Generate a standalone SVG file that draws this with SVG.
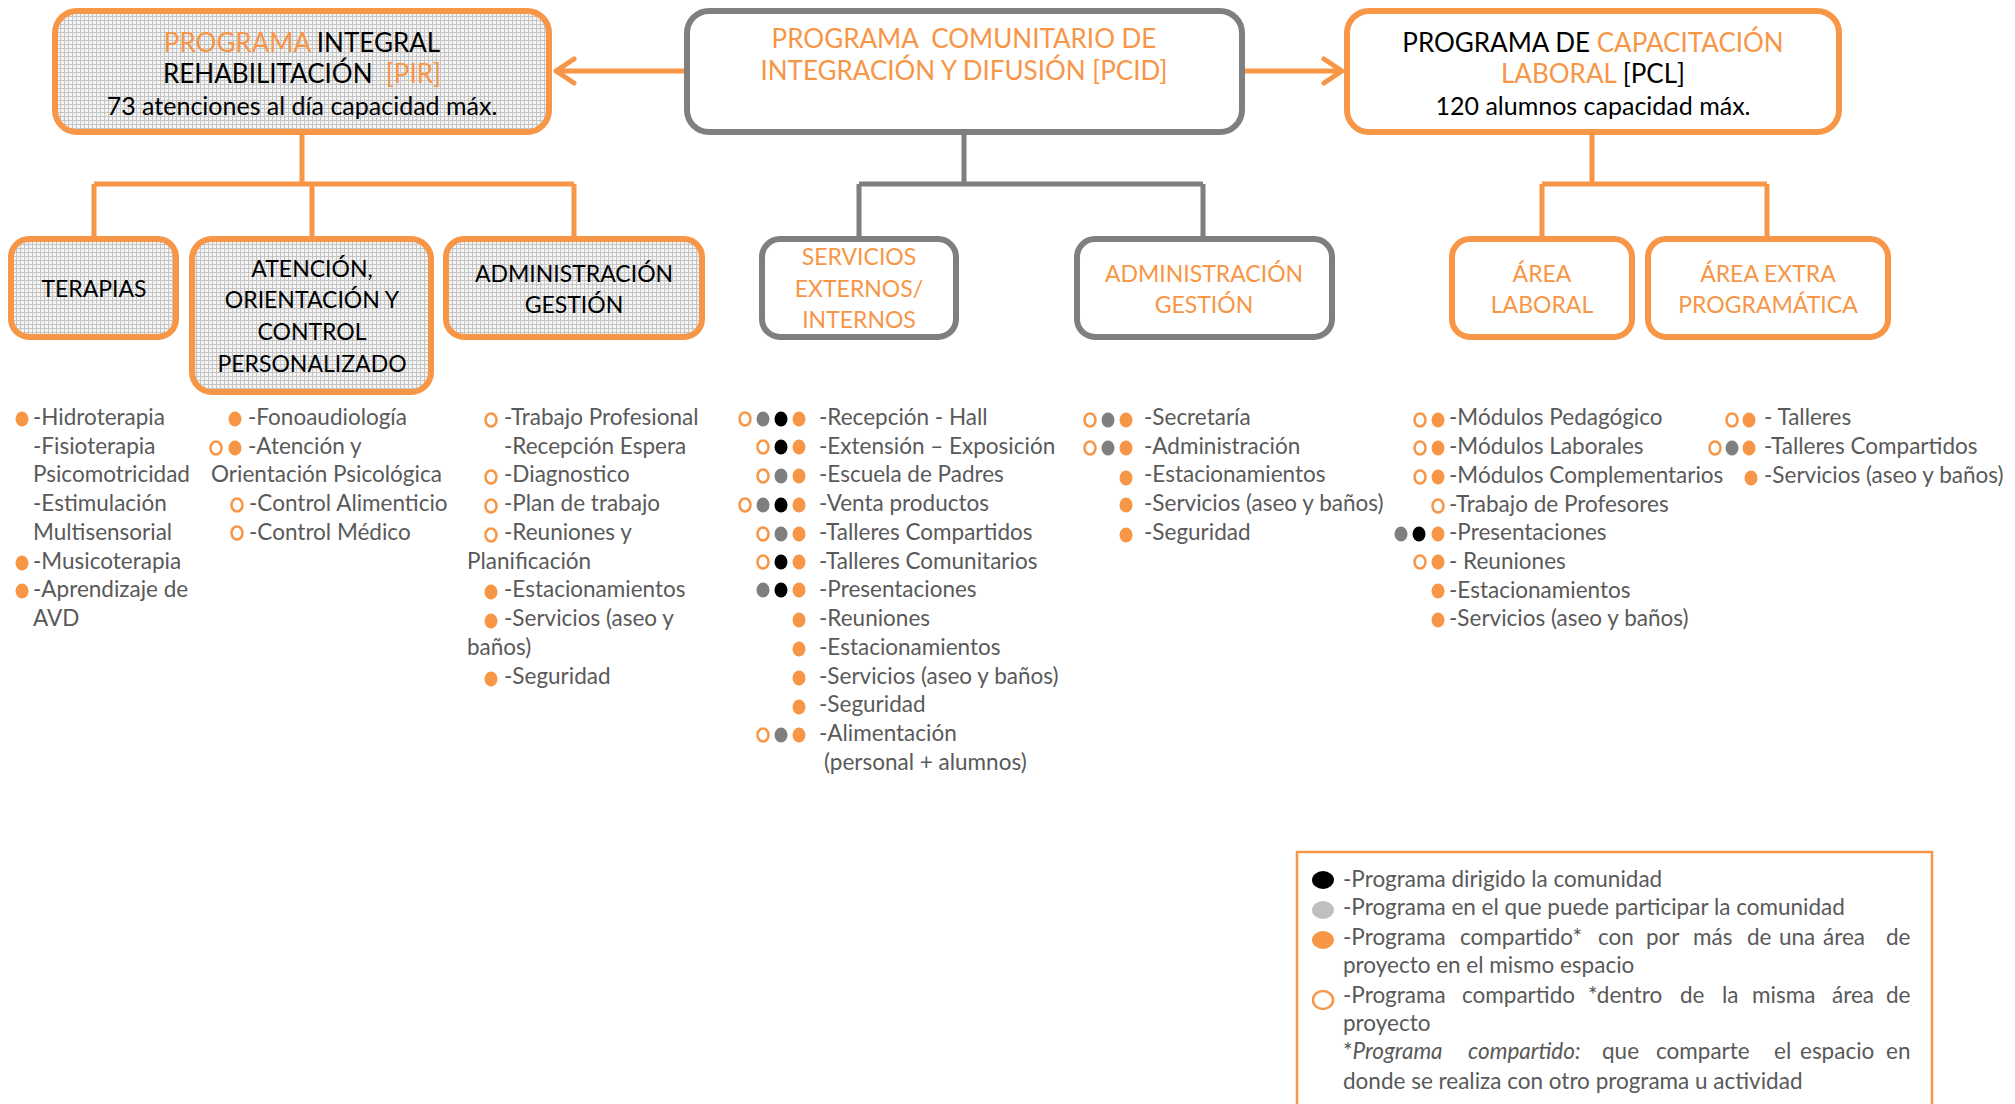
<svg xmlns="http://www.w3.org/2000/svg" width="2015" height="1104" viewBox="0 0 2015 1104">
<defs>
<pattern id="hatch" width="4" height="4" patternUnits="userSpaceOnUse">
<rect width="4" height="4" fill="#f4f4f4"/>
<path d="M0,0.5 H4 M0.5,0 V4" stroke="#c4c4c4" stroke-width="1"/>
</pattern>
<marker id="chev" viewBox="0 0 26 30" refX="22" refY="15" markerWidth="26" markerHeight="30" markerUnits="userSpaceOnUse" orient="auto">
<path d="M4,3 L22,15 L4,27" fill="none" stroke="#F79646" stroke-width="5" stroke-linecap="round" stroke-linejoin="round"/>
</marker>
<style>
.bo{fill:url(#hatch);stroke:#F79646;stroke-width:6}
.bw{fill:#fff;stroke:#F79646;stroke-width:6}
.bg{fill:#fff;stroke:#7F7F7F;stroke-width:6}
.h{font-family:Lato,"Open Sans",sans-serif;font-size:25px;fill:#000;text-anchor:middle}
.hc{font-size:26px}
.h2{font-family:Lato,"Open Sans",sans-serif;font-size:23px;fill:#000;text-anchor:middle}
.o{fill:#F79646}
.l{font-family:Lato,"Open Sans",sans-serif;font-size:22.5px;fill:#595959}
.it{font-style:italic}
.fo{fill:#F79646}
.fg{fill:#7F7F7F}
.fb{fill:#000}
.fl{fill:#BFBFBF}
.oo{fill:#fff;stroke:#F79646;stroke-width:2.5}
.co{fill:none;stroke:#F79646;stroke-width:5}
.cg{fill:none;stroke:#7F7F7F;stroke-width:5}
</style>
</defs>
<rect width="2015" height="1104" fill="#fff"/>

<g id="connectors">
<path class="co" d="M302,132 V184 M94,184 H574 M94,184 V238 M312,184 V238 M574,184 V238"/>
<path class="cg" d="M964,132 V184 M859,184 H1203 M859,184 V238 M1203,184 V238"/>
<path class="co" d="M1592,132 V184 M1542,184 H1767 M1542,184 V238 M1767,184 V238"/>
<path class="co" d="M687,71 H556" marker-end="url(#chev)"/>
<path class="co" d="M1243,71 H1342" marker-end="url(#chev)"/>
</g>

<g id="pir">
<rect class="bo" x="55" y="11" width="494" height="121" rx="22"/>
<text class="h hc" x="302" y="52"><tspan class="o">PROGRAMA</tspan> INTEGRAL</text>
<text class="h hc" x="302" y="83" xml:space="preserve">REHABILITACIÓN  <tspan class="o">[PIR]</tspan></text>
<text class="h" x="302" y="115">73 atenciones al día capacidad máx.</text>
</g>
<g id="pcid">
<rect class="bg" x="687" y="11" width="555" height="121" rx="22"/>
<text class="h hc o" x="964" y="48" xml:space="preserve">PROGRAMA  COMUNITARIO DE</text>
<text class="h hc o" x="964" y="80">INTEGRACIÓN Y DIFUSIÓN [PCID]</text>
</g>
<g id="pcl">
<rect class="bw" x="1347" y="11" width="492" height="121" rx="22"/>
<text class="h hc" x="1593" y="52">PROGRAMA DE <tspan class="o">CAPACITACIÓN</tspan></text>
<text class="h hc" x="1593" y="83"><tspan class="o">LABORAL</tspan> [PCL]</text>
<text class="h" x="1593" y="115">120 alumnos capacidad máx.</text>
</g>

<g id="terapias">
<rect class="bo" x="11" y="239" width="165" height="98" rx="18"/>
<text class="h2" x="94" y="297">TERAPIAS</text>
</g>
<g id="atencion">
<rect class="bo" x="192" y="239" width="239" height="153" rx="20"/>
<text class="h2" x="312" y="277">ATENCIÓN,</text>
<text class="h2" x="312" y="308">ORIENTACIÓN Y</text>
<text class="h2" x="312" y="340">CONTROL</text>
<text class="h2" x="312" y="372">PERSONALIZADO</text>
</g>
<g id="admin-pir">
<rect class="bo" x="446" y="239" width="256" height="98" rx="18"/>
<text class="h2" x="574" y="282">ADMINISTRACIÓN</text>
<text class="h2" x="574" y="313">GESTIÓN</text>
</g>
<g id="servicios">
<rect class="bg" x="762" y="239" width="194" height="98" rx="18"/>
<text class="h2 o" x="859" y="265">SERVICIOS</text>
<text class="h2 o" x="859" y="297">EXTERNOS/</text>
<text class="h2 o" x="859" y="328">INTERNOS</text>
</g>
<g id="admin-pcid">
<rect class="bg" x="1077" y="239" width="255" height="98" rx="18"/>
<text class="h2 o" x="1204" y="282">ADMINISTRACIÓN</text>
<text class="h2 o" x="1204" y="313">GESTIÓN</text>
</g>
<g id="area-laboral">
<rect class="bw" x="1452" y="239" width="180" height="98" rx="18"/>
<text class="h2 o" x="1542" y="282">ÁREA</text>
<text class="h2 o" x="1542" y="313">LABORAL</text>
</g>
<g id="area-extra">
<rect class="bw" x="1648" y="239" width="240" height="98" rx="18"/>
<text class="h2 o" x="1768" y="282">ÁREA EXTRA</text>
<text class="h2 o" x="1768" y="313">PROGRAMÁTICA</text>
</g>

<g id="list-terapias">
<ellipse class="fo" cx="22" cy="419" rx="6.5" ry="7.5"/>
<text class="l" x="33" y="425">-Hidroterapia</text>
<text class="l" x="33" y="454">-Fisioterapia</text>
<text class="l" x="33" y="482">Psicomotricidad</text>
<text class="l" x="33" y="511">-Estimulación</text>
<text class="l" x="33" y="540">Multisensorial</text>
<ellipse class="fo" cx="22" cy="563" rx="6.5" ry="7.5"/>
<text class="l" x="33" y="569">-Musicoterapia</text>
<ellipse class="fo" cx="22" cy="591" rx="6.5" ry="7.5"/>
<text class="l" x="33" y="597">-Aprendizaje de</text>
<text class="l" x="33" y="626">AVD</text>
</g>

<g id="list-atencion">
<ellipse class="fo" cx="235" cy="419" rx="6.5" ry="7.5"/>
<text class="l" x="248" y="425">-Fonoaudiología</text>
<ellipse class="oo" cx="216" cy="448" rx="5.5" ry="6.5"/>
<ellipse class="fo" cx="235" cy="448" rx="6.5" ry="7.5"/>
<text class="l" x="248" y="454">-Atención y</text>
<text class="l" x="211" y="482">Orientación Psicológica</text>
<ellipse class="oo" cx="237" cy="505" rx="5.5" ry="6.5"/>
<text class="l" x="249" y="511">-Control Alimenticio</text>
<ellipse class="oo" cx="237" cy="533" rx="5.5" ry="6.5"/>
<text class="l" x="249" y="540">-Control Médico</text>
</g>

<g id="list-admin-pir">
<ellipse class="oo" cx="491" cy="420" rx="5.5" ry="6.5"/>
<text class="l" x="504" y="425">-Trabajo Profesional</text>
<text class="l" x="504" y="454">-Recepción Espera</text>
<ellipse class="oo" cx="491" cy="477" rx="5.5" ry="6.5"/>
<text class="l" x="504" y="482">-Diagnostico</text>
<ellipse class="oo" cx="491" cy="506" rx="5.5" ry="6.5"/>
<text class="l" x="504" y="511">-Plan de trabajo</text>
<ellipse class="oo" cx="491" cy="535" rx="5.5" ry="6.5"/>
<text class="l" x="504" y="540">-Reuniones y</text>
<text class="l" x="467" y="569">Planificación</text>
<ellipse class="fo" cx="491" cy="592" rx="6.5" ry="7.5"/>
<text class="l" x="504" y="597">-Estacionamientos</text>
<ellipse class="fo" cx="491" cy="621" rx="6.5" ry="7.5"/>
<text class="l" x="504" y="626">-Servicios (aseo y</text>
<text class="l" x="467" y="655">baños)</text>
<ellipse class="fo" cx="491" cy="679" rx="6.5" ry="7.5"/>
<text class="l" x="504" y="684">-Seguridad</text>
</g>

<g id="list-servicios">
<ellipse class="oo" cx="745" cy="419" rx="5.5" ry="6.5"/><ellipse class="fg" cx="763" cy="419" rx="6.5" ry="7.5"/><ellipse class="fb" cx="781" cy="419" rx="6.5" ry="7.5"/><ellipse class="fo" cx="799" cy="419" rx="6.5" ry="7.5"/>
<text class="l" x="819" y="425">-Recepción - Hall</text>
<ellipse class="oo" cx="763" cy="447" rx="5.5" ry="6.5"/><ellipse class="fb" cx="781" cy="447" rx="6.5" ry="7.5"/><ellipse class="fo" cx="799" cy="447" rx="6.5" ry="7.5"/>
<text class="l" x="819" y="454">-Extensión – Exposición</text>
<ellipse class="oo" cx="763" cy="476" rx="5.5" ry="6.5"/><ellipse class="fg" cx="781" cy="476" rx="6.5" ry="7.5"/><ellipse class="fo" cx="799" cy="476" rx="6.5" ry="7.5"/>
<text class="l" x="819" y="482">-Escuela de Padres</text>
<ellipse class="oo" cx="745" cy="505" rx="5.5" ry="6.5"/><ellipse class="fg" cx="763" cy="505" rx="6.5" ry="7.5"/><ellipse class="fb" cx="781" cy="505" rx="6.5" ry="7.5"/><ellipse class="fo" cx="799" cy="505" rx="6.5" ry="7.5"/>
<text class="l" x="819" y="511">-Venta productos</text>
<ellipse class="oo" cx="763" cy="534" rx="5.5" ry="6.5"/><ellipse class="fg" cx="781" cy="534" rx="6.5" ry="7.5"/><ellipse class="fo" cx="799" cy="534" rx="6.5" ry="7.5"/>
<text class="l" x="819" y="540">-Talleres Compartidos</text>
<ellipse class="oo" cx="763" cy="562" rx="5.5" ry="6.5"/><ellipse class="fb" cx="781" cy="562" rx="6.5" ry="7.5"/><ellipse class="fo" cx="799" cy="562" rx="6.5" ry="7.5"/>
<text class="l" x="819" y="569">-Talleres Comunitarios</text>
<ellipse class="fg" cx="763" cy="590" rx="6.5" ry="7.5"/><ellipse class="fb" cx="781" cy="590" rx="6.5" ry="7.5"/><ellipse class="fo" cx="799" cy="590" rx="6.5" ry="7.5"/>
<text class="l" x="819" y="597">-Presentaciones</text>
<ellipse class="fo" cx="799" cy="620" rx="6.5" ry="7.5"/>
<text class="l" x="819" y="626">-Reuniones</text>
<ellipse class="fo" cx="799" cy="649" rx="6.5" ry="7.5"/>
<text class="l" x="819" y="655">-Estacionamientos</text>
<ellipse class="fo" cx="799" cy="678" rx="6.5" ry="7.5"/>
<text class="l" x="819" y="684">-Servicios (aseo y baños)</text>
<ellipse class="fo" cx="799" cy="707" rx="6.5" ry="7.5"/>
<text class="l" x="819" y="712">-Seguridad</text>
<ellipse class="oo" cx="763" cy="735" rx="5.5" ry="6.5"/><ellipse class="fg" cx="781" cy="735" rx="6.5" ry="7.5"/><ellipse class="fo" cx="799" cy="735" rx="6.5" ry="7.5"/>
<text class="l" x="819" y="741">-Alimentación</text>
<text class="l" x="824" y="770">(personal + alumnos)</text>
</g>

<g id="list-admin-pcid">
<ellipse class="oo" cx="1090" cy="420" rx="5.5" ry="6.5"/><ellipse class="fg" cx="1108" cy="420" rx="6.5" ry="7.5"/><ellipse class="fo" cx="1126" cy="420" rx="6.5" ry="7.5"/>
<text class="l" x="1144" y="425">-Secretaría</text>
<ellipse class="oo" cx="1090" cy="448" rx="5.5" ry="6.5"/><ellipse class="fg" cx="1108" cy="448" rx="6.5" ry="7.5"/><ellipse class="fo" cx="1126" cy="448" rx="6.5" ry="7.5"/>
<text class="l" x="1144" y="454">-Administración</text>
<ellipse class="fo" cx="1126" cy="478" rx="6.5" ry="7.5"/>
<text class="l" x="1144" y="482">-Estacionamientos</text>
<ellipse class="fo" cx="1126" cy="505" rx="6.5" ry="7.5"/>
<text class="l" x="1144" y="511">-Servicios (aseo y baños)</text>
<ellipse class="fo" cx="1126" cy="535" rx="6.5" ry="7.5"/>
<text class="l" x="1144" y="540">-Seguridad</text>
</g>

<g id="list-area-laboral">
<ellipse class="oo" cx="1420" cy="420" rx="5.5" ry="6.5"/><ellipse class="fo" cx="1438" cy="420" rx="6.5" ry="7.5"/>
<text class="l" x="1449" y="425">-Módulos Pedagógico</text>
<ellipse class="oo" cx="1420" cy="448" rx="5.5" ry="6.5"/><ellipse class="fo" cx="1438" cy="448" rx="6.5" ry="7.5"/>
<text class="l" x="1449" y="454">-Módulos Laborales</text>
<ellipse class="oo" cx="1420" cy="477" rx="5.5" ry="6.5"/><ellipse class="fo" cx="1438" cy="477" rx="6.5" ry="7.5"/>
<text class="l" x="1449" y="483">-Módulos Complementarios</text>
<ellipse class="oo" cx="1438" cy="506" rx="5.5" ry="6.5"/>
<text class="l" x="1449" y="512">-Trabajo de Profesores</text>
<ellipse class="fg" cx="1401" cy="534" rx="6.5" ry="7.5"/><ellipse class="fb" cx="1419" cy="534" rx="6.5" ry="7.5"/><ellipse class="fo" cx="1438" cy="534" rx="6.5" ry="7.5"/>
<text class="l" x="1449" y="540">-Presentaciones</text>
<ellipse class="oo" cx="1420" cy="562" rx="5.5" ry="6.5"/><ellipse class="fo" cx="1438" cy="562" rx="6.5" ry="7.5"/>
<text class="l" x="1449" y="569">- Reuniones</text>
<ellipse class="fo" cx="1438" cy="591" rx="6.5" ry="7.5"/>
<text class="l" x="1449" y="598">-Estacionamientos</text>
<ellipse class="fo" cx="1438" cy="620" rx="6.5" ry="7.5"/>
<text class="l" x="1449" y="626">-Servicios (aseo y baños)</text>
</g>

<g id="list-area-extra">
<ellipse class="oo" cx="1732" cy="420" rx="5.5" ry="6.5"/><ellipse class="fo" cx="1749" cy="420" rx="6.5" ry="7.5"/>
<text class="l" x="1764" y="425">- Talleres</text>
<ellipse class="oo" cx="1715" cy="448" rx="5.5" ry="6.5"/><ellipse class="fg" cx="1732" cy="448" rx="6.5" ry="7.5"/><ellipse class="fo" cx="1749" cy="448" rx="6.5" ry="7.5"/>
<text class="l" x="1764" y="454">-Talleres Compartidos</text>
<ellipse class="fo" cx="1751" cy="478" rx="6.5" ry="7.5"/>
<text class="l" x="1764" y="483">-Servicios (aseo y baños)</text>
</g>

<g id="legend">
<rect x="1297" y="852" width="635" height="300" fill="#fff" stroke="#F79646" stroke-width="2.5"/>
<ellipse class="fb" cx="1323" cy="880" rx="11" ry="9"/>
<text class="l" x="1343" y="887">-Programa dirigido la comunidad</text>
<ellipse class="fl" cx="1323" cy="910" rx="11" ry="9"/>
<text class="l" x="1343" y="915">-Programa en el que puede participar la comunidad</text>
<ellipse class="fo" cx="1323" cy="940" rx="11" ry="9"/>
<text class="l" y="945"><tspan x="1343">-Programa</tspan><tspan x="1460">compartido*</tspan><tspan x="1598">con</tspan><tspan x="1646">por</tspan><tspan x="1693">más</tspan><tspan x="1747">de</tspan><tspan x="1779">una</tspan><tspan x="1823">área</tspan><tspan x="1886">de</tspan></text>
<text class="l" x="1343" y="973">proyecto en el mismo espacio</text>
<ellipse class="oo" cx="1323" cy="1000" rx="10" ry="9"/>
<text class="l" y="1003"><tspan x="1343">-Programa</tspan><tspan x="1462">compartido</tspan><tspan x="1588">*dentro</tspan><tspan x="1680">de</tspan><tspan x="1722">la</tspan><tspan x="1752">misma</tspan><tspan x="1832">área</tspan><tspan x="1886">de</tspan></text>
<text class="l" x="1343" y="1031">proyecto</text>
<text class="l" y="1059"><tspan x="1343">*</tspan><tspan class="it">Programa</tspan><tspan class="it" x="1468">compartido:</tspan><tspan x="1602">que</tspan><tspan x="1656">comparte</tspan><tspan x="1774">el</tspan><tspan x="1800">espacio</tspan><tspan x="1886">en</tspan></text>
<text class="l" x="1343" y="1089">donde se realiza con otro programa u actividad</text>
</g>
</svg>
